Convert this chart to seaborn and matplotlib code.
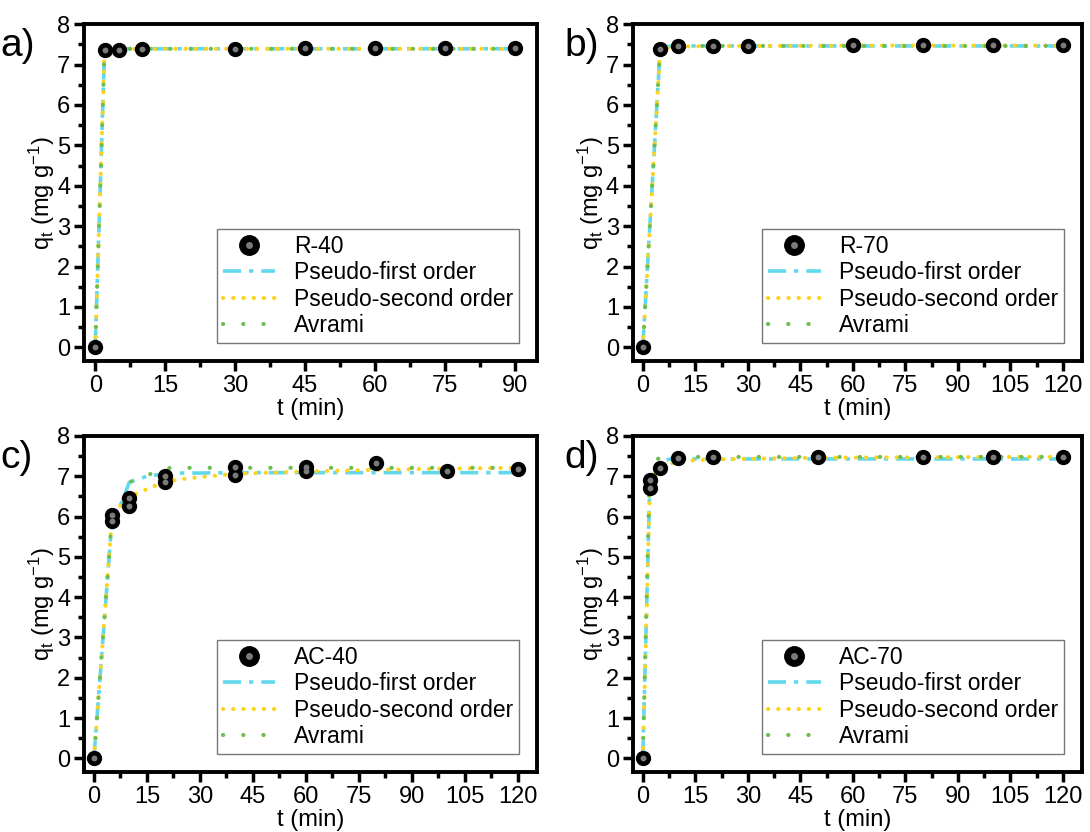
import matplotlib
matplotlib.use('Agg')
import matplotlib.pyplot as plt
import seaborn as sns
import pandas as pd
from matplotlib.lines import Line2D
from matplotlib.legend_handler import HandlerTuple
from matplotlib.ticker import MultipleLocator

sns.set_theme(style='white')
plt.rcParams['font.family'] = ['Liberation Sans', 'DejaVu Sans']
plt.rcParams['mathtext.fontset'] = 'custom'
plt.rcParams['mathtext.rm'] = 'Liberation Sans'
plt.rcParams['mathtext.it'] = 'Liberation Sans:italic'
plt.rcParams['text.color'] = 'black'
plt.rcParams['axes.labelcolor'] = 'black'
plt.rcParams['xtick.color'] = 'black'
plt.rcParams['ytick.color'] = 'black'

# ---- data ----
# a) R-40
a_t = [0, 2, 5, 10, 30, 45, 60, 75, 90]
a_q = [0, 7.37, 7.37, 7.39, 7.39, 7.40, 7.40, 7.41, 7.41]
a_fit_t = [0, 2, 5, 10, 30, 45, 60, 75, 90]
a_pfo = [0, 7.36, 7.39, 7.39, 7.39, 7.39, 7.39, 7.39, 7.39]
a_pso = [0, 7.34, 7.38, 7.39, 7.39, 7.39, 7.39, 7.39, 7.39]
a_avr = [0, 7.37, 7.39, 7.39, 7.39, 7.39, 7.39, 7.39, 7.39]

# b) R-70
b_t = [0, 5, 10, 20, 30, 60, 80, 100, 120]
b_q = [0, 7.38, 7.46, 7.47, 7.45, 7.48, 7.48, 7.48, 7.48]
b_fit_t = [0, 5, 10, 20, 30, 60, 80, 100, 120]
b_pfo = [0, 7.44, 7.46, 7.46, 7.46, 7.46, 7.46, 7.46, 7.46]
b_pso = [0, 7.38, 7.44, 7.46, 7.46, 7.47, 7.47, 7.47, 7.47]
b_avr = [0, 7.45, 7.46, 7.46, 7.46, 7.46, 7.46, 7.46, 7.46]

# c) AC-40
c_t = [0, 5, 5, 10, 10, 20, 20, 40, 40, 60, 60, 80, 100, 120]
c_q = [0, 6.04, 5.90, 6.46, 6.27, 7.00, 6.87, 7.23, 7.04, 7.22, 7.12, 7.32, 7.12, 7.18]
c_fit_t = [0, 5, 8, 10, 15, 20, 25, 30, 40, 60, 80, 100, 120]
c_pfo = [0, 5.80, 6.38, 6.85, 7.00, 7.06, 7.08, 7.08, 7.09, 7.09, 7.09, 7.09, 7.09]
c_pso = [0, 5.85, 6.35, 6.50, 6.68, 6.86, 6.93, 6.98, 7.06, 7.12, 7.16, 7.19, 7.21]
c_avr = [0, 5.85, 6.33, 6.85, 7.02, 7.20, 7.21, 7.21, 7.21, 7.21, 7.21, 7.21, 7.21]

# d) AC-70
d_t = [0, 2, 2, 5, 10, 20, 50, 80, 100, 120]
d_q = [0, 6.90, 6.70, 7.20, 7.46, 7.48, 7.48, 7.49, 7.49, 7.49]
d_fit_t = [0, 2, 3, 5, 8, 10, 15, 20, 50, 80, 100, 120]
d_pfo = [0, 6.80, 7.05, 7.38, 7.43, 7.43, 7.43, 7.43, 7.43, 7.43, 7.43, 7.43]
d_pso = [0, 6.60, 6.98, 7.20, 7.32, 7.35, 7.40, 7.42, 7.46, 7.47, 7.48, 7.48]
d_avr = [0, 7.20, 7.35, 7.47, 7.48, 7.48, 7.48, 7.48, 7.48, 7.48, 7.48, 7.48]

panels = [
    ('a)', 'R-40', a_t, a_q, a_fit_t, a_pfo, a_pso, a_avr, 90),
    ('b)', 'R-70', b_t, b_q, b_fit_t, b_pfo, b_pso, b_avr, 120),
    ('c)', 'AC-40', c_t, c_q, c_fit_t, c_pfo, c_pso, c_avr, 120),
    ('d)', 'AC-70', d_t, d_q, d_fit_t, d_pfo, d_pso, d_avr, 120),
]

CYAN = '#62D8EC'
YELLOW = '#FFD21E'
GREEN = '#6DBE4F'

pfo_style = dict(color=CYAN, lw=2.6, linestyle=(0, (5, 2.2, 1.2, 2.2)))
pso_style = dict(color=YELLOW, lw=3.0, linestyle=(0, (0.05, 2.4)), dash_capstyle='round')
avr_style = dict(color=GREEN, lw=3.0, linestyle=(0, (0.05, 4.8)), dash_capstyle='round')

fig = plt.figure(figsize=(10.9, 8.32), dpi=100)

positions = [
    [0.0771, 0.566, 0.4156, 0.405],
    [0.5807, 0.566, 0.4120, 0.405],
    [0.0771, 0.072, 0.4156, 0.404],
    [0.5807, 0.072, 0.4120, 0.404],
]
label_pos = [(0.0, 0.945), (0.518, 0.945), (0.0, 0.45), (0.518, 0.45)]

for (tag, name, t, q, ft, pfo, pso, avr, tmax), pos, lp in zip(panels, positions, label_pos):
    ax = fig.add_axes(pos)
    fits = pd.DataFrame({'t': ft, 'pfo': pfo, 'pso': pso, 'avr': avr})
    pts = pd.DataFrame({'t': t, 'q': q})

    sns.lineplot(data=fits, x='t', y='pfo', ax=ax, estimator=None, sort=False, **pfo_style)
    sns.lineplot(data=fits, x='t', y='pso', ax=ax, estimator=None, sort=False, **pso_style)
    sns.lineplot(data=fits, x='t', y='avr', ax=ax, estimator=None, sort=False, **avr_style)
    # sphere-like markers: black ball with a grey highlight
    sns.scatterplot(data=pts, x='t', y='q', ax=ax, color='black', s=100, edgecolor='black',
                    linewidth=1, zorder=5)
    sns.scatterplot(data=pts, x='t', y='q', ax=ax, color='#7a7a7a', s=18, linewidth=0, zorder=6)

    if tmax == 90:
        ax.set_xlim(-2.4, 94.8)
    else:
        ax.set_xlim(-2.8, 125.5)
    ax.xaxis.set_major_locator(MultipleLocator(15))
    ax.xaxis.set_minor_locator(MultipleLocator(7.5))
    ax.set_ylim(-0.34, 8)
    ax.yaxis.set_major_locator(MultipleLocator(1))
    ax.yaxis.set_minor_locator(MultipleLocator(0.5))

    for sp in ax.spines.values():
        sp.set_visible(True)
        sp.set_linewidth(2.8)
        sp.set_color('black')
    ax.tick_params(axis='both', which='major', direction='out', length=7, width=2.5,
                   labelsize=17, colors='black', bottom=True, left=True, pad=3)
    ax.tick_params(axis='both', which='minor', direction='out', length=4.5, width=2.5,
                   bottom=True, left=True)
    ax.set_xlabel('t (min)', fontsize=17, labelpad=1)
    ax.set_ylabel(r'q$_\mathregular{t}$ (mg g$^\mathregular{-1}$)', fontsize=17, labelpad=0)

    ball = (Line2D([], [], ls='none', marker='o', ms=14, mfc='black', mec='black'),
            Line2D([], [], ls='none', marker='o', ms=5, mfc='#7a7a7a', mec='none'))
    handles = [ball,
               Line2D([], [], **pfo_style),
               Line2D([], [], **pso_style),
               Line2D([], [], **avr_style)]
    labels = [name, 'Pseudo-first order', 'Pseudo-second order', 'Avrami']
    leg = ax.legend(handles, labels, loc='lower right', bbox_to_anchor=(0.985, 0.02),
                    fontsize=16.5, frameon=True, fancybox=False, edgecolor='#555555',
                    handlelength=2.3, handletextpad=0.8, borderpad=0.25, labelspacing=0.15,
                    handler_map={tuple: HandlerTuple(ndivide=1)})
    leg.get_frame().set_linewidth(1.0)

    fig.text(lp[0], lp[1], tag, fontsize=28, ha='left', va='center')

fig.savefig('out.png', dpi=100)
